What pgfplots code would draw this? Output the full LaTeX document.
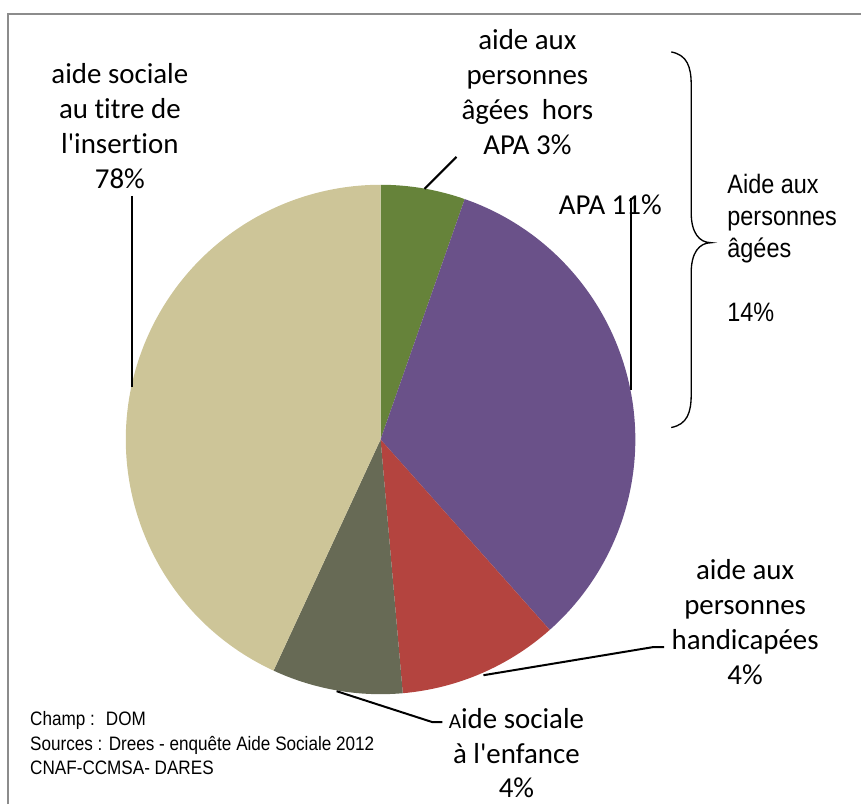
\documentclass[border=0pt]{standalone}
\usepackage{pgfplots}
\pgfplotsset{compat=1.18}
\usepackage{fontspec}
\setmainfont{Carlito}[Ligatures={NoCommon}]
\newfontfamily\arial{Liberation Sans}[FakeStretch=0.88]
\definecolor{cgreen}{HTML}{66833A}
\definecolor{cpurple}{HTML}{6A5189}
\definecolor{cred}{HTML}{B4443F}
\definecolor{cgray}{HTML}{676A55}
\definecolor{cbeige}{HTML}{CDC598}
\definecolor{cframe}{HTML}{8C8C8C}
\newcommand{\q}{\textquotesingle}
% slice: colour, start %, end % (clockwise from 12 o'clock)
\newcommand{\slice}[3]{\fill[#1] (axis cs:381,365) -- ++({90-3.6*#2}:191.25pt) arc[start angle={90-3.6*#2}, end angle={90-3.6*#3}, radius=191.25pt] -- cycle;}
\begin{document}
\begin{tikzpicture}
\begin{axis}[
  x=0.75pt, y=0.75pt,
  xmin=0, xmax=862, ymin=0, ymax=805,
  hide axis, clip=false, scale only axis,
]
\path (axis cs:0,0) rectangle (axis cs:862,805);
% frame
\draw[cframe, line width=1.5pt] (axis cs:8,0) -- (axis cs:8,791) -- (axis cs:862,791);
% pie slices (shares in %)
\slice{cgreen}{0}{5.36}
\slice{cpurple}{5.36}{38.44}
\slice{cred}{38.44}{48.61}
\slice{cgray}{48.61}{56.90}
\slice{cbeige}{56.90}{100}
% leader lines
\draw[black, line width=1.6pt] (axis cs:132,609) -- (axis cs:132,418);
\draw[black, line width=1.6pt] (axis cs:425,616) -- (axis cs:457,648);
\draw[black, line width=1.6pt] (axis cs:632,607) -- (axis cs:632,415);
\draw[black, line width=1.5pt] (axis cs:484,129) -- (axis cs:653,157) -- (axis cs:665,157);
\draw[black, line width=1.5pt] (axis cs:337,113) -- (axis cs:433,82) -- (axis cs:443,82);
% brace
\draw[black, line width=1pt] (axis cs:672,753) .. controls (axis cs:688,750) and (axis cs:692,738) .. (axis cs:692,720)
  -- (axis cs:692,592) .. controls (axis cs:692,572) and (axis cs:700,562) .. (axis cs:712,562)
  .. controls (axis cs:700,562) and (axis cs:692,552) .. (axis cs:692,532)
  -- (axis cs:692,410) .. controls (axis cs:692,392) and (axis cs:688,380) .. (axis cs:672,377);
% labels
\node[align=center, inner sep=0pt, font=\fontsize{21.7pt}{26.25pt}\selectfont] at (axis cs:120,679)
  {aide sociale\\au titre de\\l\q insertion\\78\%};
\node[align=center, inner sep=0pt, font=\fontsize{21.7pt}{26.25pt}\selectfont] at (axis cs:528,713)
  {aide aux\\personnes\\âgées~ hors\\APA 3\%};
\node[align=center, inner sep=0pt, font=\fontsize{21.7pt}{26.25pt}\selectfont] at (axis cs:611,600)
  {APA 11\%};
\node[align=center, inner sep=0pt, font=\fontsize{21.7pt}{26.25pt}\selectfont] at (axis cs:746,182)
  {aide aux\\personnes\\handicapées\\4\%};
\node[align=center, inner sep=0pt, font=\fontsize{21.7pt}{26.25pt}\selectfont] at (axis cs:517,51)
  {{\fontsize{16pt}{16pt}\selectfont A}ide sociale\\à l\q enfance\\4\%};
\node[align=left, anchor=west, inner sep=0pt, font=\arial\fontsize{20pt}{24pt}\selectfont] at (axis cs:728,557)
  {Aide aux\\personnes\\âgées\\[24pt]14\%};
\node[align=left, anchor=north west, inner sep=0pt, font=\arial\fontsize{14.6pt}{18.4pt}\selectfont] at (axis cs:30,93)
  {Champ :~ DOM\\Sources : Drees - enquête Aide Sociale 2012\\CNAF-CCMSA- DARES};
\end{axis}
\end{tikzpicture}
\end{document}
